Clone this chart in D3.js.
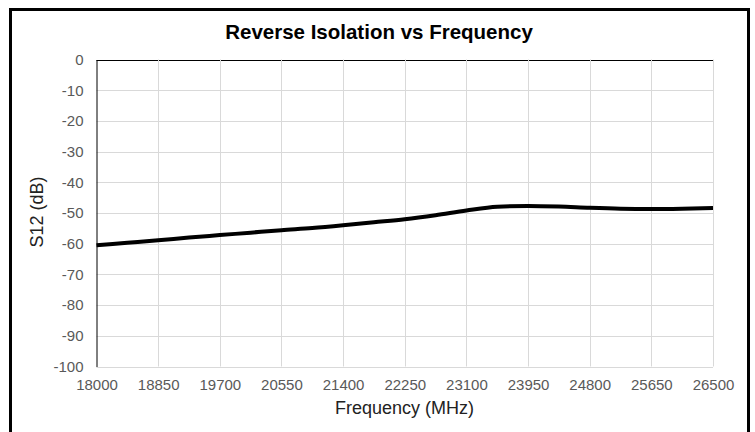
<!DOCTYPE html>
<html>
<head>
<meta charset="utf-8">
<script src="https://cdn.jsdelivr.net/npm/d3@7"></script>
<style>
body{margin:0;background:#fff;}
svg{display:block;font-family:"Liberation Sans",Arial,sans-serif;}
</style>
</head>
<body>
<svg></svg>
<script>
// data
var freqs=[18000,18425,18850,19275,19700,20125,20550,20975,21400,21825,22250,22675,23100,23525,23950,24375,24800,25225,25650,26075,26500]
var s12=[-60.5,-59.7,-58.9,-58.0,-57.2,-56.4,-55.6,-54.9,-54.0,-53.0,-52.0,-50.7,-49.2,-48.0,-47.7,-47.9,-48.3,-48.6,-48.7,-48.6,-48.4]
var xTicks=[18000,18850,19700,20550,21400,22250,23100,23950,24800,25650,26500]
var yTicks=[0,-10,-20,-30,-40,-50,-60,-70,-80,-90,-100]

var width=755, height=432
var svg=d3.select("svg").attr("width",width).attr("height",height)

var plot={left:96.5,right:713,top:59.5,bottom:366.5}

var xScale=d3.scaleLinear().domain([18000,26500]).range([plot.left,plot.right])
var yScale=d3.scaleLinear().domain([-100,0]).range([plot.bottom,plot.top])

// plain hyphen minus like the original
var plain=function(d){return String(d)}

// outer frame
svg.append("rect")
    .attr("x",10.5).attr("y",9.5)
    .attr("width",738).attr("height",440)
    .attr("fill","none").attr("stroke","#000").attr("stroke-width",3)

// title
svg.append("text")
    .attr("x",379).attr("y",39)
    .attr("text-anchor","middle")
    .attr("font-size","20.5px").attr("font-weight","bold")
    .attr("fill","#000")
    .text("Reverse Isolation vs Frequency")

// grid
svg.append("g")
    .selectAll("line.h")
    .data(yTicks)
    .enter().append("line")
    .attr("x1",plot.left).attr("x2",plot.right)
    .attr("y1",function(d){return Math.round(yScale(d))+0.5})
    .attr("y2",function(d){return Math.round(yScale(d))+0.5})
    .attr("stroke",function(d){return d==0?"#000":"#d9d9d9"})
    .attr("stroke-width",1)

svg.append("g")
    .selectAll("line.v")
    .data(xTicks.slice(1))
    .enter().append("line")
    .attr("x1",function(d){return Math.round(xScale(d))+0.5})
    .attr("x2",function(d){return Math.round(xScale(d))+0.5})
    .attr("y1",plot.top).attr("y2",plot.bottom)
    .attr("stroke","#d9d9d9").attr("stroke-width",1)

//y-axis
var yAxis=d3.axisLeft(yScale).tickValues(yTicks).tickSize(0).tickPadding(13).tickFormat(plain)
var gy=svg.append("g")
    .attr("transform","translate("+plot.left+",0)")
    .call(yAxis)
gy.select(".domain").attr("stroke","#000")
gy.selectAll("text").attr("font-size","15px").attr("fill","#595959")
    .attr("font-family","Liberation Sans, Arial, sans-serif")

//x-axis, labels under the plot
var xAxis=d3.axisBottom(xScale).tickValues(xTicks).tickSize(0).tickPadding(13).tickFormat(plain)
var gx=svg.append("g")
    .attr("transform","translate(0,"+plot.bottom+")")
    .call(xAxis)
gx.select(".domain").remove()
gx.selectAll("text").attr("font-size","15px").attr("fill","#595959")
    .attr("font-family","Liberation Sans, Arial, sans-serif")

// axis titles
svg.append("text")
    .attr("x",404.5).attr("y",414)
    .attr("text-anchor","middle")
    .attr("font-size","18px").attr("fill","#222")
    .text("Frequency (MHz)")

svg.append("text")
    .attr("transform","translate(43,212) rotate(-90)")
    .attr("text-anchor","middle")
    .attr("font-size","18px").attr("fill","#222")
    .text("S12 (dB)")

// the curve
var line=d3.line()
    .x(function(d,i){return xScale(freqs[i])})
    .y(function(d){return yScale(d)})
    .curve(d3.curveMonotoneX)

svg.append("path")
    .datum(s12)
    .attr("d",line)
    .attr("fill","none")
    .attr("stroke","#000")
    .attr("stroke-width",4)
    .attr("stroke-linejoin","round")
</script>
</body>
</html>
